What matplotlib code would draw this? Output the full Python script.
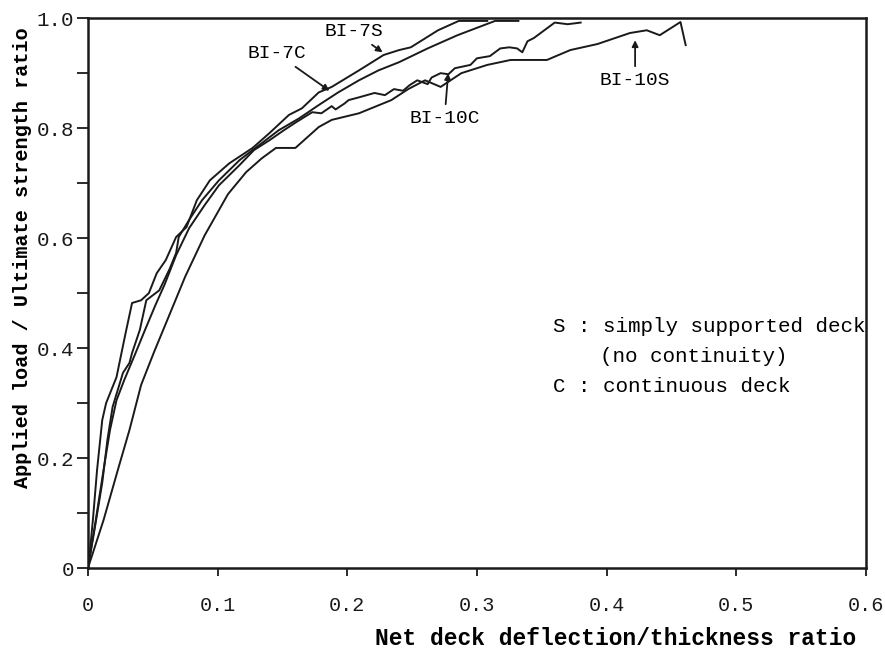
import matplotlib
matplotlib.use("Agg")
import matplotlib.pyplot as plt
import numpy as np

# Net deck deflection / thickness ratio vs applied load / ultimate strength
bi7s_x = [0, 0.002, 0.004, 0.007, 0.011, 0.014, 0.022, 0.029, 0.034, 0.041,
          0.047, 0.053, 0.060, 0.068, 0.076, 0.084, 0.094, 0.109, 0.127, 0.140,
          0.155, 0.165, 0.178, 0.188, 0.209, 0.228, 0.240, 0.249, 0.270, 0.286,
          0.308]
bi7s_y = [0, 0.042, 0.093, 0.178, 0.269, 0.300, 0.347, 0.427, 0.482, 0.487,
          0.500, 0.536, 0.560, 0.602, 0.620, 0.669, 0.705, 0.736, 0.764, 0.791,
          0.824, 0.836, 0.865, 0.875, 0.905, 0.933, 0.942, 0.947, 0.978, 0.995,
          0.995]

bi7c_x = [0, 0.005, 0.011, 0.015, 0.019, 0.027, 0.032, 0.034, 0.040, 0.045,
          0.055, 0.063, 0.068, 0.070, 0.078, 0.088, 0.101, 0.117, 0.132, 0.147,
          0.163, 0.178, 0.193, 0.209, 0.224, 0.240, 0.262, 0.285, 0.314, 0.332]
bi7c_y = [0, 0.069, 0.155, 0.233, 0.293, 0.355, 0.373, 0.391, 0.433, 0.487,
          0.505, 0.544, 0.573, 0.602, 0.633, 0.669, 0.705, 0.742, 0.769, 0.796,
          0.818, 0.842, 0.865, 0.887, 0.905, 0.920, 0.945, 0.969, 0.995, 0.995]

bi10c_x = [0, 0.006, 0.012, 0.017, 0.022, 0.028, 0.036, 0.044, 0.052, 0.059,
           0.068, 0.078, 0.090, 0.101, 0.117, 0.128, 0.140, 0.151, 0.160, 0.173,
           0.180, 0.188, 0.191, 0.198, 0.201, 0.209, 0.221, 0.229, 0.236, 0.243,
           0.248, 0.254, 0.262, 0.265, 0.272, 0.278, 0.283, 0.295, 0.300, 0.310,
           0.318, 0.325, 0.331, 0.335, 0.339, 0.344, 0.352, 0.360, 0.370, 0.380]
bi10c_y = [0, 0.087, 0.178, 0.251, 0.305, 0.342, 0.387, 0.433, 0.478, 0.515,
           0.569, 0.618, 0.660, 0.696, 0.733, 0.760, 0.778, 0.796, 0.810, 0.829,
           0.827, 0.840, 0.834, 0.845, 0.851, 0.856, 0.864, 0.860, 0.871, 0.868,
           0.878, 0.887, 0.880, 0.892, 0.900, 0.898, 0.909, 0.915, 0.927, 0.931,
           0.945, 0.947, 0.945, 0.938, 0.958, 0.964, 0.978, 0.992, 0.989, 0.992]

bi10s_x = [0, 0.012, 0.023, 0.032, 0.041, 0.051, 0.061, 0.075, 0.090, 0.108,
           0.122, 0.134, 0.145, 0.160, 0.178, 0.188, 0.209, 0.234, 0.247, 0.260,
           0.272, 0.288, 0.308, 0.326, 0.354, 0.372, 0.393, 0.418, 0.431, 0.441,
           0.457, 0.461]
bi10s_y = [0, 0.087, 0.178, 0.251, 0.333, 0.393, 0.450, 0.530, 0.605, 0.680,
           0.720, 0.745, 0.764, 0.764, 0.802, 0.815, 0.827, 0.851, 0.871, 0.887,
           0.875, 0.900, 0.915, 0.924, 0.924, 0.942, 0.953, 0.973, 0.978, 0.969,
           0.993, 0.951]

x_ticks = [0, 0.1, 0.2, 0.3, 0.4, 0.5, 0.6]
x_tick_labels = ["0", "0.1", "0.2", "0.3", "0.4", "0.5", "0.6"]
y_ticks = [0, 0.2, 0.4, 0.6, 0.8, 1.0]
y_tick_labels = ["0", "0.2", "0.4", "0.6", "0.8", "1.0"]

plt.rcParams["font.family"] = ["Liberation Mono", "DejaVu Sans Mono"]

fig = plt.figure(figsize=(8.85, 6.49), dpi=100)
ax = fig.add_axes([0.0994, 0.1248, 0.879, 0.8472])

for xs, ys in [(bi7s_x, bi7s_y), (bi7c_x, bi7c_y),
               (bi10c_x, bi10c_y), (bi10s_x, bi10s_y)]:
    ax.plot(xs, ys, color="#1a1a1a", linewidth=1.4)

ax.set_xlim(0, 0.6)
ax.set_ylim(0, 1.0)
ax.set_xticks(x_ticks)
ax.set_xticklabels(x_tick_labels, fontsize=14.5)
ax.set_yticks(y_ticks)
ax.set_yticklabels(y_tick_labels, fontsize=15)
ax.set_yticks(np.arange(0.1, 1.0, 0.2), minor=True)
ax.tick_params(axis="y", which="both", direction="out", length=8, width=1.3,
               pad=2, colors="#1a1a1a")
ax.tick_params(axis="x", direction="out", length=6, width=1.3, pad=14,
               colors="#1a1a1a")
for sp in ax.spines.values():
    sp.set_linewidth(1.8)
    sp.set_color("#1a1a1a")

ax.set_xlabel("Net deck deflection/thickness ratio", fontsize=16.5,
              fontweight="bold")
ax.xaxis.set_label_coords(0.678, -0.108)
ax.set_ylabel("Applied load / Ultimate strength ratio", fontsize=14.5,
              fontweight="bold")
ax.yaxis.set_label_coords(-0.072, 0.565)

# curve labels with arrows
arrow = dict(arrowstyle="-|>", color="#1a1a1a", lw=1.3, mutation_scale=9)
ax.annotate("BI-7S", xy=(0.229, 0.935), xytext=(0.205, 0.975),
            fontsize=14, ha="center", va="center", arrowprops=arrow)
ax.annotate("BI-7C", xy=(0.188, 0.865), xytext=(0.146, 0.935),
            fontsize=14, ha="center", va="center", arrowprops=arrow)
ax.annotate("BI-10C", xy=(0.278, 0.905), xytext=(0.275, 0.818),
            fontsize=14, ha="center", va="center", arrowprops=arrow)
ax.annotate("BI-10S", xy=(0.422, 0.965), xytext=(0.422, 0.887),
            fontsize=14, ha="center", va="center", arrowprops=arrow)

ax.text(0.359, 0.44, "S : simply supported deck", fontsize=15, va="center")
ax.text(0.395, 0.385, "(no continuity)", fontsize=15, va="center")
ax.text(0.359, 0.33, "C : continuous deck", fontsize=15, va="center")

fig.savefig("out.png", dpi=100)
